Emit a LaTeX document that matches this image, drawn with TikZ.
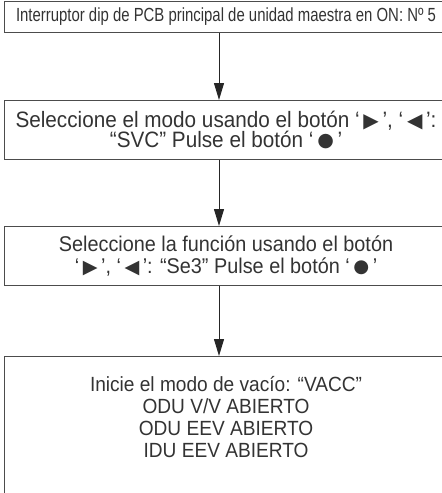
\documentclass[tikz,border=0pt]{standalone}
\usepackage{fontspec}
\setmainfont{Liberation Sans}
\newfontfamily\condfont[FakeStretch=0.785]{Liberation Sans}
\newfontfamily\textofont[FakeStretch=0.93]{Liberation Sans}
\newfontfamily\symfont[Scale=0.9]{DejaVu Sans}
\usetikzlibrary{arrows.meta}
\newcommand{\simb}[1]{{\symfont #1}}
\newcommand{\punto}{\raisebox{0.05em}{\symfont\scalebox{0.95}{●}}}

\begin{document}
\begin{tikzpicture}[x=0.75pt, y=-0.75pt,
  paso/.style={rectangle, draw=black!70, line width=0.8pt, text=black!80,
    minimum width=332.25pt, align=center, anchor=north west},
  flecha/.style={-{Triangle[length=12.75pt,width=7.5pt]}, line width=0.75pt, black!85}]
\useasboundingbox (0,0) rectangle (442,493);
\clip (0,0) rectangle (442,493);

\node[paso, minimum height=23.25pt, inner ysep=0pt, font=\condfont\fontsize{14.25pt}{16pt}\selectfont] (b1) at (4,1)
  {Interruptor dip de PCB principal de unidad maestra en ON: Nº 5};

\node[paso, minimum height=44.25pt, inner ysep=0pt, font=\textofont\fontsize{16.7pt}{15.5pt}\selectfont] (b2) at (4,100)
  {Seleccione el modo usando el botón ‘\,\simb{▶}\,’, ‘\,\simb{◀}\,’:\\
   “SVC” Pulse el botón ‘\,\punto\,’};

\node[paso, minimum height=44.25pt, inner ysep=0pt, font=\textofont\fontsize{16pt}{17pt}\selectfont] (b3) at (4,226)
  {Seleccione la función usando el botón\\
   ‘\,\simb{▶}\,’, ‘\,\simb{◀}\,’: “Se3” Pulse el botón ‘\,\punto\,’};

\node[paso, inner ysep=15pt, font=\textofont\fontsize{15.4pt}{16.5pt}\selectfont] (b4) at (4,356)
  {Inicie el modo de vacío: “VACC”\\
   ODU V/V ABIERTO\\
   ODU EEV ABIERTO\\
   IDU EEV ABIERTO\rule[-60pt]{0pt}{0pt}};

% flechas
\coordinate (ax) at (219,0);
\draw[flecha] (b1.south -| ax) -- (b2.north -| ax);
\draw[flecha] (b2.south -| ax) -- (b3.north -| ax);
\draw[flecha] (b3.south -| ax) -- (b4.north -| ax);
\end{tikzpicture}
\end{document}
